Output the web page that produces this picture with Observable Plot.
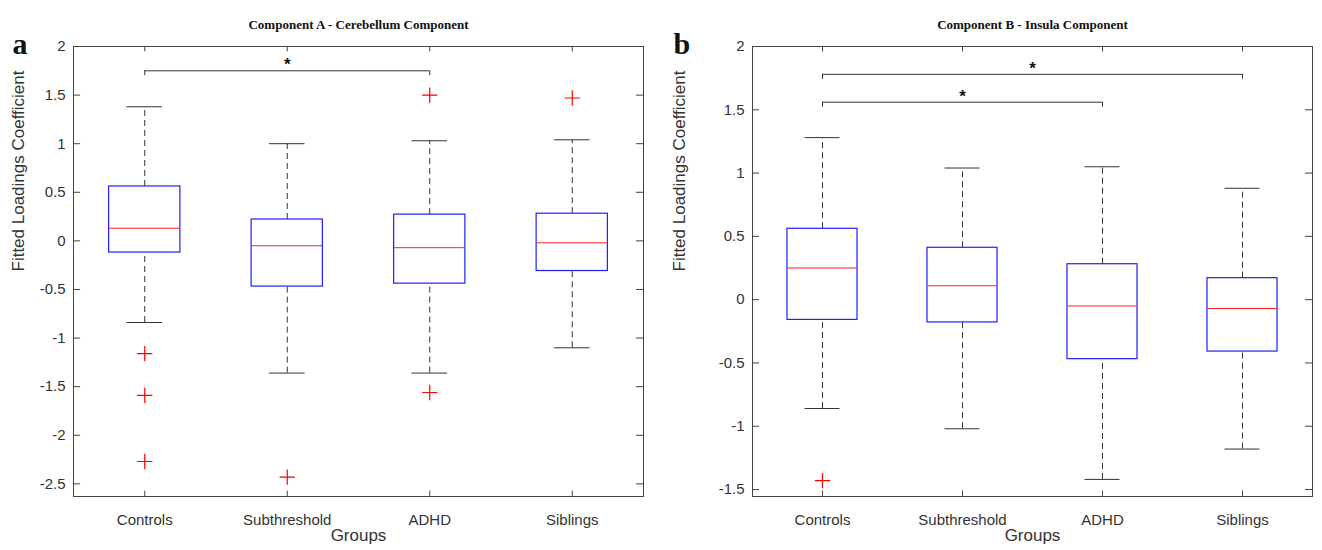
<!DOCTYPE html>
<html><head><meta charset="utf-8">
<script src="https://cdn.jsdelivr.net/npm/d3@7"></script>
<script src="https://cdn.jsdelivr.net/npm/@observablehq/plot@0.6"></script>
<style>
body{margin:0;background:#fff;font-family:"Liberation Sans",Arial,sans-serif}
#wrap{display:flex;width:1322px;height:550px}
</style></head><body><div id="wrap"></div>
<script>
const groups = ["Controls","Subthreshold","ADHD","Siblings"];

// panel a: [whiskerHigh, Q3, median, Q1, whiskerLow]
const statsA = [[1.38,0.56,0.13,-0.12,-0.84],[1.0,0.22,-0.05,-0.47,-1.36],[1.03,0.27,-0.07,-0.44,-1.36],[1.04,0.28,-0.02,-0.31,-1.10]];
const outliersA = [["Controls",-1.16],["Controls",-1.59],["Controls",-2.27],["Subthreshold",-2.43],["ADHD",1.5],["ADHD",-1.56],["Siblings",1.47]];
const sigA = [["Controls","ADHD",1.75]];
const yTicksA = [-2.5,-2,-1.5,-1,-0.5,0,0.5,1,1.5,2];

const statsB = [[1.28,0.56,0.25,-0.16,-0.86],[1.04,0.41,0.11,-0.18,-1.02],[1.05,0.28,-0.05,-0.47,-1.42],[0.88,0.17,-0.07,-0.41,-1.18]];
const outliersB = [["Controls",-1.43]];
const sigB = [["Controls","Siblings",1.78],["Controls","ADHD",1.56]];
const yTicksB = [-1.5,-1,-0.5,0,0.5,1,1.5,2];

function panel({stats, outliers, sig, yTicks, yDomain, title, letter, marginLeft, marginRight}) {
  const pos = g => groups.indexOf(g) + 1;
  const boxes = stats.map((s, i) => ({x: i + 1, hi: s[0], q3: s[1], med: s[2], q1: s[3], lo: s[4]}));
  const out = outliers.map(([g, v]) => ({x: pos(g), v}));
  const brackets = sig.map(([a, b, y]) => ({a: pos(a), b: pos(b), y}));
  const tk = 0.05;
  const fs = 15;
  const span = yDomain[1] - yDomain[0];
  return Plot.plot({
    width: 661, height: 550,
    marginLeft, marginRight, marginTop: 46, marginBottom: 54,
    style: {fontFamily: "Liberation Sans, Arial, sans-serif", fontSize: fs + "px", color: "#333"},
    x: {domain: [0.5, 4.5], label: null},
    y: {domain: yDomain, label: null},
    marks: [
      Plot.frame({stroke: "#444"}),
      // inward ticks
      Plot.ruleY(yTicks, {x1: 0.5, x2: 0.5 + tk, stroke: "#444"}),
      Plot.ruleY(yTicks, {x1: 4.5, x2: 4.5 - tk, stroke: "#444"}),
      Plot.ruleX(groups.map((g, i) => i + 1), {y1: yDomain[0], y2: yDomain[0] + span * 0.012, stroke: "#444"}),
      Plot.ruleX(groups.map((g, i) => i + 1), {y1: yDomain[1], y2: yDomain[1] - span * 0.012, stroke: "#444"}),
      Plot.axisY(yTicks, {tickSize: 0, tickPadding: 8, fontSize: fs, tickFormat: d => String(d)}),
      Plot.axisX(groups.map((g, i) => i + 1), {tickSize: 0, tickPadding: 18, fontSize: fs, tickFormat: d => groups[d - 1]}),
      // whiskers
      Plot.ruleX(boxes, {x: "x", y1: "q3", y2: "hi", stroke: "#333", strokeDasharray: "6,4"}),
      Plot.ruleX(boxes, {x: "x", y1: "lo", y2: "q1", stroke: "#333", strokeDasharray: "6,4"}),
      Plot.ruleY(boxes, {y: "hi", x1: d => d.x - 0.125, x2: d => d.x + 0.125, stroke: "#333"}),
      Plot.ruleY(boxes, {y: "lo", x1: d => d.x - 0.125, x2: d => d.x + 0.125, stroke: "#333"}),
      Plot.rect(boxes, {x1: d => d.x - 0.25, x2: d => d.x + 0.25, y1: "q1", y2: "q3", fill: "white", stroke: "#1f1fff", strokeWidth: 1.2}),
      Plot.ruleY(boxes, {y: "med", x1: d => d.x - 0.25, x2: d => d.x + 0.25, stroke: "#ff2020"}),
      Plot.dot(out, {x: "x", y: "v", symbol: "plus", r: 5, stroke: "red", strokeWidth: 1.2}),
      // significance brackets
      Plot.ruleY(brackets, {y: "y", x1: "a", x2: "b", stroke: "#333"}),
      Plot.ruleX(brackets, {x: "a", y1: d => d.y - 0.011 * span, y2: "y", stroke: "#333"}),
      Plot.ruleX(brackets, {x: "b", y1: d => d.y - 0.011 * span, y2: "y", stroke: "#333"}),
      Plot.text(brackets, {x: d => (d.a + d.b) / 2, y: "y", text: () => "*", dy: -6, fontSize: 17, fontWeight: "bold", fill: "#111"}),
      // titles & labels
      Plot.text([title], {frameAnchor: "top", dy: -27, fontFamily: "Liberation Serif, serif", fontWeight: "bold", fontSize: 13, fill: "#111"}),
      Plot.text([letter], {frameAnchor: "top-left", dx: -(marginLeft - 12), dy: -14, fontFamily: "Liberation Serif, serif", fontWeight: "bold", fontSize: 30, fill: "#111", textAnchor: "start"}),
      Plot.text(["Groups"], {frameAnchor: "bottom", dy: 44, fontSize: 17, fill: "#333"}),
      Plot.text(["Fitted Loadings Coefficient"], {frameAnchor: "left", dx: -(marginLeft - 18), rotate: -90, fontSize: 17, fill: "#333"})
    ]
  });
}

const wrap = document.getElementById("wrap");
wrap.append(panel({stats: statsA, outliers: outliersA, sig: sigA, yTicks: yTicksA, yDomain: [-2.63, 2],
  title: "Component A - Cerebellum Component", letter: "a", marginLeft: 73, marginRight: 18}));
wrap.append(panel({stats: statsB, outliers: outliersB, sig: sigB, yTicks: yTicksB, yDomain: [-1.555, 2],
  title: "Component B - Insula Component", letter: "b", marginLeft: 91, marginRight: 10}));
</script></body></html>
